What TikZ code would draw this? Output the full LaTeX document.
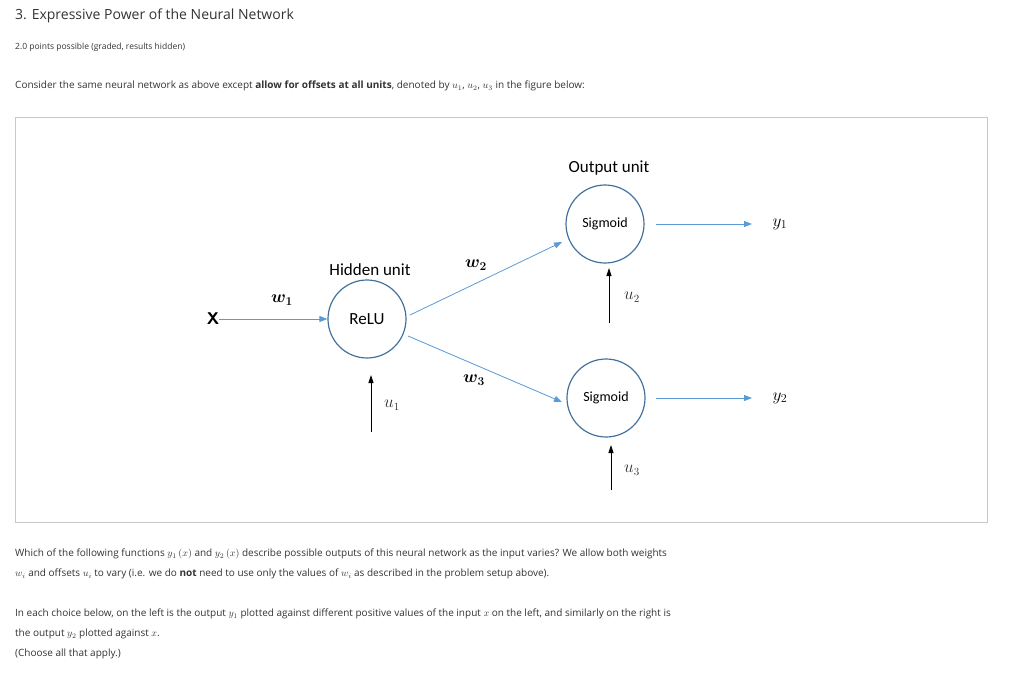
\documentclass[tikz,border=0pt]{standalone}
\usepackage{amsmath}
\usepackage{fontspec}
\setmainfont{Open Sans}
\newfontfamily\carlito{Carlito}
\usetikzlibrary{arrows.meta}
\definecolor{txt}{RGB}{51,51,51}
\definecolor{arr}{RGB}{91,155,213}
\definecolor{circ}{RGB}{65,113,156}
\definecolor{frame}{RGB}{200,200,200}
\begin{document}
\begin{tikzpicture}[x=1pt,y=-1pt,
  unit/.style={circle,draw=circ,line width=1.2pt,minimum size=78pt,inner sep=0pt,font=\carlito\fontsize{14}{14}\selectfont},
  blue/.style={draw=arr,line width=0.8pt,-{Triangle[length=8pt,width=6pt]}},
  off/.style={draw=black,line width=0.8pt,-{Triangle[length=8pt,width=5pt]}},
  line/.style={anchor=west,inner sep=0pt,text=txt,font=\fontsize{10}{12}\selectfont},
  lbl/.style={inner sep=0pt,font=\carlito\fontsize{17}{17}\selectfont}]
\useasboundingbox (0,0) rectangle (1015,678);
\node[line,font=\fontsize{14}{16}\selectfont] (t) at (15,16) {3. Expressive Power of the Neural Network};
\node[line,font=\fontsize{8.5}{10}\selectfont] (p) at (15,47) {2.0 points possible (graded, results hidden)};
\node[line] (c) at (15,86) {Consider the same neural network as above except \textbf{allow for offsets at all units}, denoted by $u_1$, $u_2$, $u_3$ in the figure below:};
\draw[frame] (15,117) rectangle (987,522);
\node[unit] (relu) at (367,319) {\fontsize{17}{17}\selectfont ReLU};
\node[unit] (s1) at (605,224) {Sigmoid};
\node[unit] (s2) at (606,398) {Sigmoid};
\node[lbl,font=\sffamily\bfseries\fontsize{17}{17}\selectfont] (x) at (213,319) {X};
\node[lbl] (hu) at (370,270) {Hidden unit};
\node[lbl] (ou) at (609,168) {Output unit};
\node[lbl] (w1) at (282,300) {$\boldsymbol{w_1}$};
\node[lbl] (w2) at (476,265) {$\boldsymbol{w_2}$};
\node[lbl] (w3) at (474,380) {$\boldsymbol{w_3}$};
\node[lbl] (y1) at (780,224) {$y_1$};
\node[lbl] (y2) at (780,398) {$y_2$};
\coordinate (y1s) at (656,224); \coordinate (y1e) at (752,224);
\coordinate (y2s) at (656,398); \coordinate (y2e) at (752,398);
\draw[blue] (x) -- (relu);
\draw[blue] (410,315) -- (562,242);
\draw[blue] (408,336) -- (562,402);
\draw[blue] (y1s) -- (y1e);
\draw[blue] (y2s) -- (y2e);
\coordinate (u1s) at (371,432); \coordinate (u1e) at (371,375);
\coordinate (u2s) at (609,323); \coordinate (u2e) at (609,268);
\coordinate (u3s) at (611,490); \coordinate (u3e) at (611,445);
\draw[off] (u1s) -- (u1e);
\draw[off] (u2s) -- (u2e);
\draw[off] (u3s) -- (u3e);
\node[lbl,font=\fontsize{16}{16}\selectfont,text=txt] (u1) at (392,405) {$u_1$};
\node[lbl,font=\fontsize{16}{16}\selectfont,text=txt] (u2) at (632,297) {$u_2$};
\node[lbl,font=\fontsize{16}{16}\selectfont,text=txt] (u3) at (632,470) {$u_3$};
\node[line] (l1) at (15,554) {Which of the following functions $y_1\left(x\right)$ and $y_2\left(x\right)$ describe possible outputs of this neural network as the input varies? We allow both weights};
\node[line] (l2) at (15,574) {$w_i$ and offsets $u_i$ to vary (i.e. we do \textbf{not} need to use only the values of $w_i$ as described in the problem setup above).};
\node[line] (l3) at (15,614) {In each choice below, on the left is the output $y_1$ plotted against different positive values of the input $x$ on the left, and similarly on the right is};
\node[line] (l4) at (15,634) {the output $y_2$ plotted against $x$.};
\node[line] (l5) at (15,654) {(Choose all that apply.)};
\end{tikzpicture}
\end{document}
